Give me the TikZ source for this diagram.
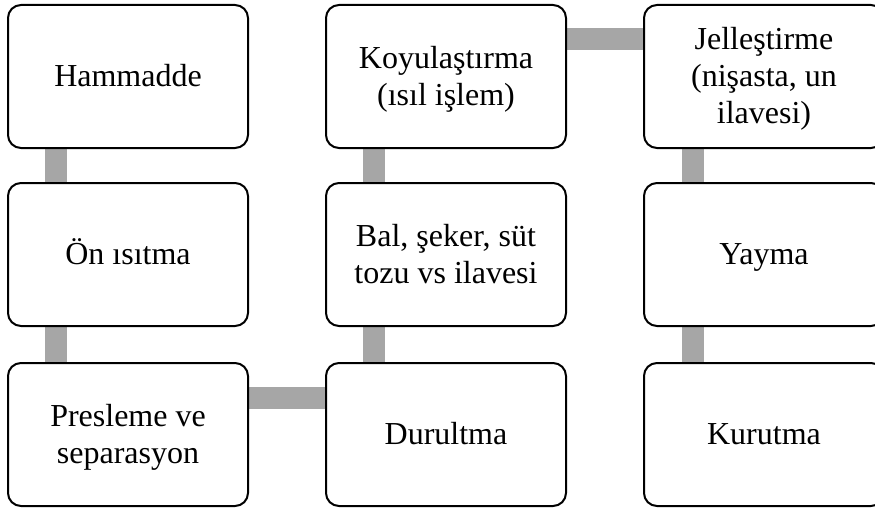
\documentclass[tikz,border=0pt]{standalone}
\usepackage{fontspec}
\setmainfont{Liberation Serif}
\usetikzlibrary{backgrounds}
\definecolor{bargray}{HTML}{A6A6A6}
\newcommand\boxstrut{\rule[-8pt]{0pt}{36pt}}
\tikzset{
  stepbox/.style={draw=black, line width=2pt, rounded corners=13pt, fill=white,
    minimum width=240pt, minimum height=143pt, inner sep=0pt,
    align=center, font=\fontsize{32}{37}\selectfont},
  bar/.style={draw=bargray, line width=22pt, line cap=butt}
}
\begin{document}
\begin{tikzpicture}[x=1pt, y=-1pt]
\useasboundingbox (0,0) rectangle (875,511);
\clip (0,0) rectangle (875,511);
\node[stepbox] (n1) at (128,76.5) {\boxstrut Hammadde};
\node[stepbox] (n2) at (128,254.5) {\boxstrut Ön ısıtma};
\node[stepbox] (n3) at (128,434.5) {\boxstrut Presleme ve\\separasyon\boxstrut};
\node[stepbox] (n4) at (446,434.5) {\boxstrut Durultma};
\node[stepbox] (n5) at (446,254.5) {\boxstrut Bal, şeker, süt\\tozu vs ilavesi\boxstrut};
\node[stepbox] (n6) at (446,76.5) {\boxstrut Koyulaştırma\\(ısıl işlem)\boxstrut};
\node[stepbox] (n7) at (764,76.5) {\boxstrut Jelleştirme\\(nişasta, un\\ilavesi)\boxstrut};
\node[stepbox] (n8) at (764,254.5) {\boxstrut Yayma};
\node[stepbox] (n9) at (764,434.5) {\boxstrut Kurutma};
\begin{scope}[on background layer]
\draw[bar] ([xshift=49pt]n1.south west) -- ([xshift=49pt]n2.north west);
\draw[bar] ([xshift=49pt]n2.south west) -- ([xshift=49pt]n3.north west);
\draw[bar] ([yshift=-36pt]n3.north east) -- ([yshift=-36pt]n4.north west);
\draw[bar] ([xshift=49pt]n4.north west) -- ([xshift=49pt]n5.south west);
\draw[bar] ([xshift=49pt]n5.north west) -- ([xshift=49pt]n6.south west);
\draw[bar] ([yshift=-35pt]n6.north east) -- ([yshift=-35pt]n7.north west);
\draw[bar] ([xshift=50pt]n7.south west) -- ([xshift=50pt]n8.north west);
\draw[bar] ([xshift=50pt]n8.south west) -- ([xshift=50pt]n9.north west);
\end{scope}
\end{tikzpicture}
\end{document}
